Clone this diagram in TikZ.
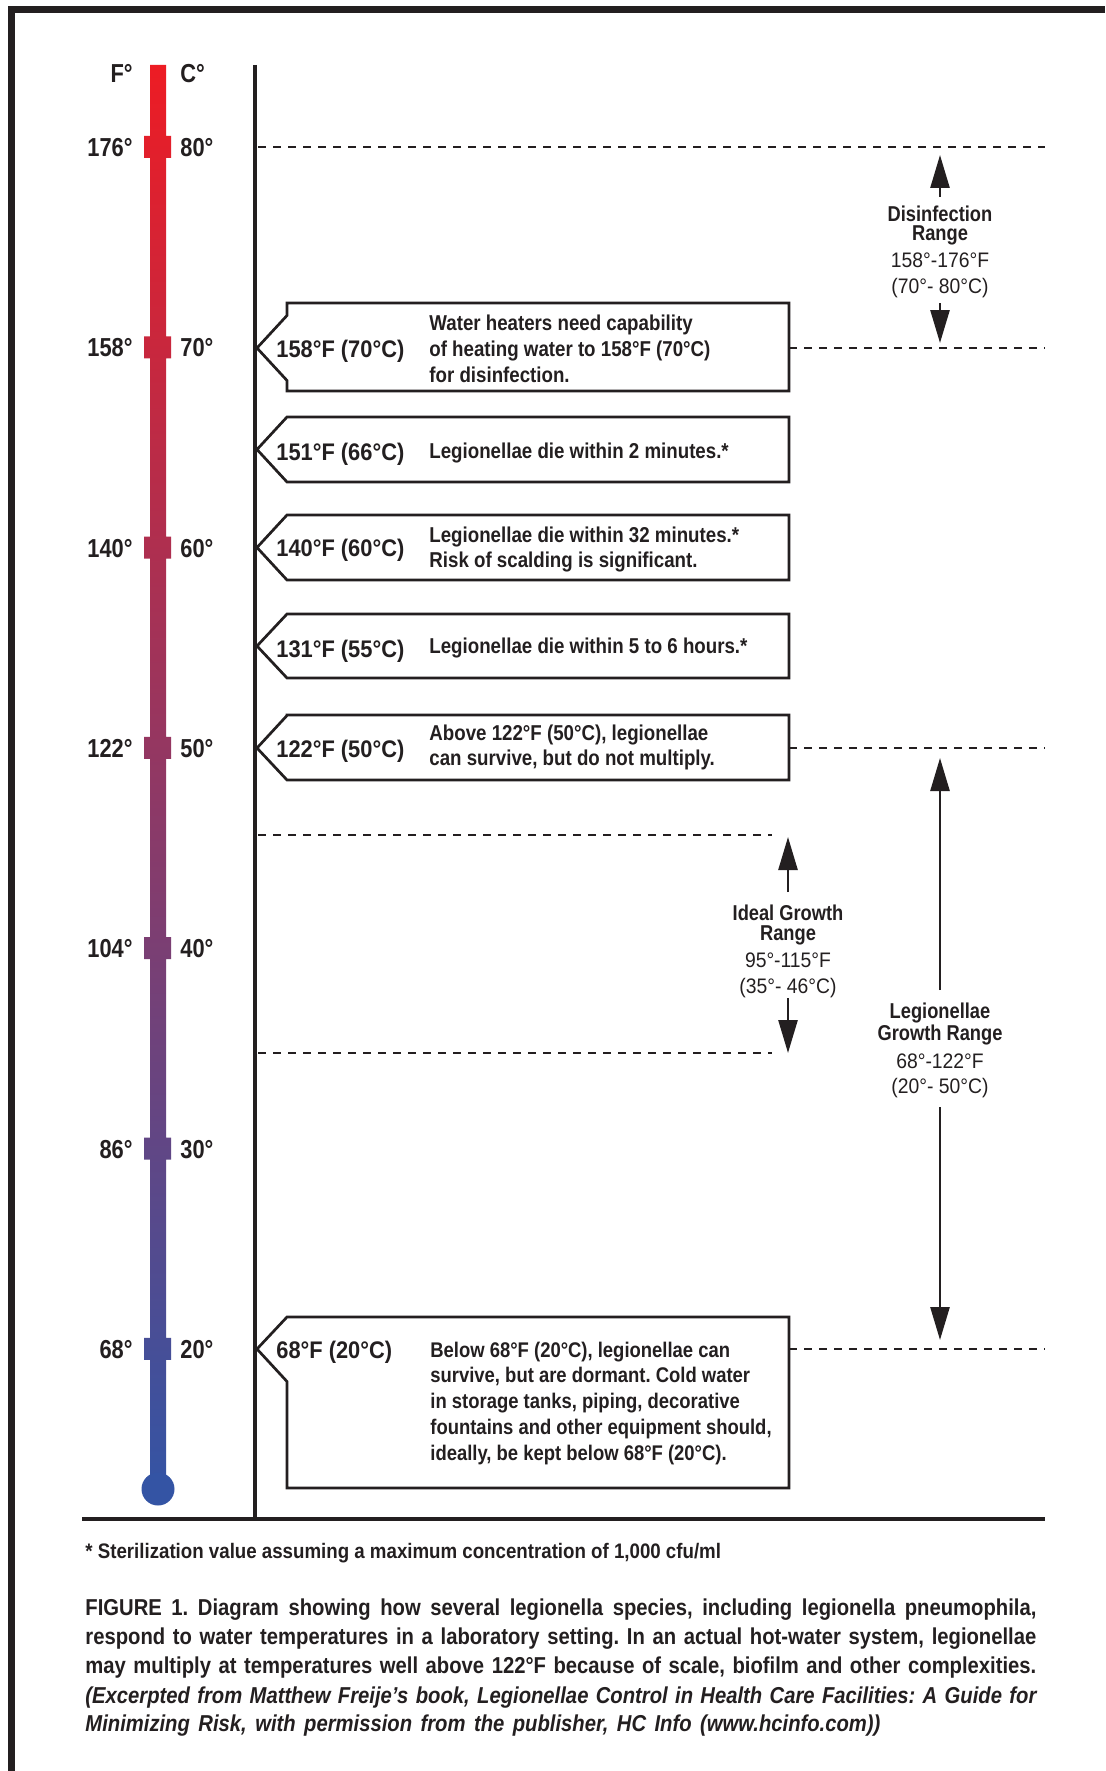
\documentclass[tikz,border=0pt]{standalone}
\usepackage{fontspec}
\usetikzlibrary{arrows.meta}
\setmainfont{Liberation Sans}
\newfontfamily\thermfont[FakeStretch=0.84]{Liberation Sans}
\newfontfamily\lblfont[FakeStretch=0.91]{Liberation Sans}
\newfontfamily\descfont[FakeStretch=0.87]{Liberation Sans}
\newfontfamily\rngfont[FakeStretch=0.85]{Liberation Sans}
\newfontfamily\rngregfont[FakeStretch=0.92]{Liberation Sans}
\newfontfamily\capfont[FakeStretch=0.88]{Liberation Sans}
\newfontfamily\footfont[FakeStretch=0.89]{Liberation Sans}
\definecolor{ink}{RGB}{35,31,32}
\definecolor{thRed}{RGB}{237,28,36}
\definecolor{thBlue}{RGB}{52,84,164}
\frenchspacing
% #1 name, #2 top, #3 bottom, #4 tip y
\newcommand{\mkcallout}[4]{%
  \coordinate (#1-tip) at (257,#4);
  \coordinate (#1-e) at (789,#4);
  \draw[boxline] (#1-tip) -- (287,{max(#2,#4-32.5)}) |- (789,#2) |- (287,#3)
     -- (287,{min(#3,#4+32.5)}) -- cycle;
}
\begin{document}
\begin{tikzpicture}[x=0.5pt,y=-0.5pt,
  thermlbl/.style={font=\thermfont\bfseries\fontsize{13}{15}\selectfont, text=ink, inner sep=0pt},
  boxlbl/.style={font=\lblfont\bfseries\fontsize{12}{14}\selectfont, text=ink, inner sep=0pt, anchor=base west},
  boxtxt/.style={font=\descfont\bfseries\fontsize{10.75}{13}\selectfont, text=ink, inner sep=0pt, anchor=base west},
  rngb/.style={font=\rngfont\bfseries\fontsize{10.75}{13}\selectfont, text=ink, inner sep=0pt, anchor=base},
  rngr/.style={font=\rngregfont\fontsize{10.5}{13}\selectfont, text=ink, inner sep=0pt, anchor=base},
  capline/.style={font=\capfont\bfseries\fontsize{11.5}{14}\selectfont, text=ink, inner sep=0pt, anchor=base west},
  footline/.style={font=\footfont\bfseries\fontsize{10.5}{12}\selectfont, text=ink, inner sep=0pt, anchor=base west},
  boxline/.style={draw=ink, line width=1.35pt, line join=miter},
  dashline/.style={draw=ink, line width=1pt, dash pattern=on 4pt off 3.5pt},
  rarrow/.style={draw=ink, line width=1.3pt, -{Triangle[length=16.5pt,width=9.5pt]}},
]
\useasboundingbox (0,0) rectangle (1105,1771);
\fill[white] (0,0) rectangle (1105,1771);

% frame (top and left edges)
\coordinate (frBL) at (11.5,1771);
\coordinate (frTL) at (11.5,9.5);
\coordinate (frTR) at (1105,9.5);
\draw[ink, line width=3.4pt, line join=miter] (frBL) -- (frTL) -- (frTR);

% thermometer
\shade[top color=thRed, bottom color=thBlue]
  (150,65) rectangle (166,1489)
  foreach \yy in {147,347.3,547.6,747.9,948.2,1148.5,1348.8} {(144,{\yy-11}) rectangle (171,{\yy+11})};
\fill[thBlue] (158,1489) circle [radius=16.5];

\node[thermlbl, anchor=base east] (Fhead) at (133,83) {F°};
\node[thermlbl, anchor=base west] (Chead) at (180,83) {C°};
\foreach \f/\c/\yy in {176/80/147,158/70/347.3,140/60/547.6,122/50/747.9,104/40/948.2,86/30/1148.5,68/20/1348.8}{
  \node[thermlbl, anchor=base east] (F\c) at (133,{\yy+9.5}) {\f°};
  \node[thermlbl, anchor=base west] (C\c) at (180,{\yy+9.5}) {\c°};
}

% axis and base line
\coordinate (axTop) at (255,65);
\coordinate (axBot) at (255,1519);
\draw[ink, line width=1.75pt] (axTop) -- (axBot);
\coordinate (blL) at (82,1519);
\coordinate (blR) at (1045,1519);
\draw[ink, line width=2pt] (blL) -- (blR);

% callout boxes
\mkcallout{b1}{303}{391}{348}
\mkcallout{b2}{417}{482}{449.5}
\mkcallout{b3}{515}{580}{547.5}
\mkcallout{b4}{614}{678}{646}
\mkcallout{b5}{715}{780}{748}
\mkcallout{b6}{1317}{1488}{1349}

\node[boxlbl] (l1) at (276,357) {158°F (70°C)};
\node[boxtxt] (t1a) at (429,330) {Water heaters need capability};
\node[boxtxt] (t1b) at (429,356) {of heating water to 158°F (70°C)};
\node[boxtxt] (t1c) at (429,382) {for disinfection.};

\node[boxlbl] (l2) at (276,460) {151°F (66°C)};
\node[boxtxt] (t2a) at (429,458) {Legionellae die within 2 minutes.*};

\node[boxlbl] (l3) at (276,556) {140°F (60°C)};
\node[boxtxt] (t3a) at (429,542) {Legionellae die within 32 minutes.*};
\node[boxtxt] (t3b) at (429,567) {Risk of scalding is significant.};

\node[boxlbl] (l4) at (276,657) {131°F (55°C)};
\node[boxtxt] (t4a) at (429,653) {Legionellae die within 5 to 6 hours.*};

\node[boxlbl] (l5) at (276,757) {122°F (50°C)};
\node[boxtxt] (t5a) at (429,740) {Above 122°F (50°C), legionellae};
\node[boxtxt] (t5b) at (429,765) {can survive, but do not multiply.};

\node[boxlbl] (l6) at (276,1358) {68°F (20°C)};
\node[boxtxt, font=\descfont\bfseries\fontsize{10.6}{13}\selectfont] (t6a) at (430,1357) {Below 68°F (20°C), legionellae can};
\node[boxtxt, font=\descfont\bfseries\fontsize{10.6}{13}\selectfont] (t6b) at (430,1382) {survive, but are dormant. Cold water};
\node[boxtxt, font=\descfont\bfseries\fontsize{10.6}{13}\selectfont] (t6c) at (430,1408) {in storage tanks, piping, decorative};
\node[boxtxt, font=\descfont\bfseries\fontsize{10.6}{13}\selectfont] (t6d) at (430,1434) {fountains and other equipment should,};
\node[boxtxt, font=\descfont\bfseries\fontsize{10.6}{13}\selectfont] (t6e) at (430,1460) {ideally, be kept below 68°F (20°C).};

% dashed reference lines
\coordinate (d80L) at (258,147);
\coordinate (d80R) at (1045,147);
\coordinate (d70R) at (1045,348);
\coordinate (d50R) at (1045,748);
\coordinate (d20R) at (1045,1349);
\coordinate (dIdTL) at (258,835);
\coordinate (dIdTR) at (772,835);
\coordinate (dIdBL) at (258,1053);
\coordinate (dIdBR) at (772,1053);
\draw[dashline] (d80L) -- (d80R);
\draw[dashline] (b1-e) -- (d70R);
\draw[dashline] (b5-e) -- (d50R);
\draw[dashline] (b6-e) -- (d20R);
\draw[dashline] (dIdTL) -- (dIdTR);
\draw[dashline] (dIdBL) -- (dIdBR);

% Disinfection range
\node[rngb] (dis1) at (940,221) {Disinfection};
\node[rngb] (dis2) at (940,241) {Range};
\node[rngr] (dis3) at (940,268) {158°-176°F};
\node[rngr] (dis4) at (940,293) {(70°- 80°C)};
\coordinate (disUpS) at (940,197);
\coordinate (disUpT) at (940,155);
\coordinate (disDnS) at (940,303);
\coordinate (disDnT) at (940,343);
\draw[rarrow] (disUpS) -- (disUpT);
\draw[rarrow] (disDnS) -- (disDnT);

% Ideal growth range
\node[rngb] (id1) at (788,920) {Ideal Growth};
\node[rngb] (id2) at (788,940) {Range};
\node[rngr] (id3) at (788,967) {95°-115°F};
\node[rngr] (id4) at (788,993) {(35°- 46°C)};
\coordinate (idUpS) at (788,892);
\coordinate (idUpT) at (788,837);
\coordinate (idDnS) at (788,998);
\coordinate (idDnT) at (788,1053);
\draw[rarrow] (idUpS) -- (idUpT);
\draw[rarrow] (idDnS) -- (idDnT);

% Legionellae growth range
\node[rngb] (lg1) at (940,1018) {Legionellae};
\node[rngb] (lg2) at (940,1040) {Growth Range};
\node[rngr] (lg3) at (940,1068) {68°-122°F};
\node[rngr] (lg4) at (940,1093) {(20°- 50°C)};
\coordinate (lgUpS) at (940,990);
\coordinate (lgUpT) at (940,758);
\coordinate (lgDnS) at (940,1107);
\coordinate (lgDnT) at (940,1340);
\draw[rarrow] (lgUpS) -- (lgUpT);
\draw[rarrow] (lgDnS) -- (lgDnT);

% footnote and caption
\node[footline] (foot) at (85,1558) {* Sterilization value assuming a maximum concentration of 1,000 cfu/ml};
\node[capline] (cap1) at (85,1615) {\makebox[475.5pt][s]{FIGURE 1. Diagram showing how several legionella species, including legionella pneumophila,}};
\node[capline] (cap2) at (85,1644) {\makebox[475.5pt][s]{respond to water temperatures in a laboratory setting. In an actual hot-water system, legionellae}};
\node[capline] (cap3) at (85,1673) {\makebox[475.5pt][s]{may multiply at temperatures well above 122°F because of scale, biofilm and other complexities.}};
\node[capline] (cap4) at (85,1703) {\makebox[475.5pt][s]{\itshape (Excerpted from Matthew Freije’s book, Legionellae Control in Health Care Facilities: A Guide for}};
\node[capline] (cap5) at (85,1731) {\makebox[397.5pt][s]{\itshape Minimizing Risk, with permission from the publisher, HC Info (www.hcinfo.com))}};
\end{tikzpicture}
\end{document}
